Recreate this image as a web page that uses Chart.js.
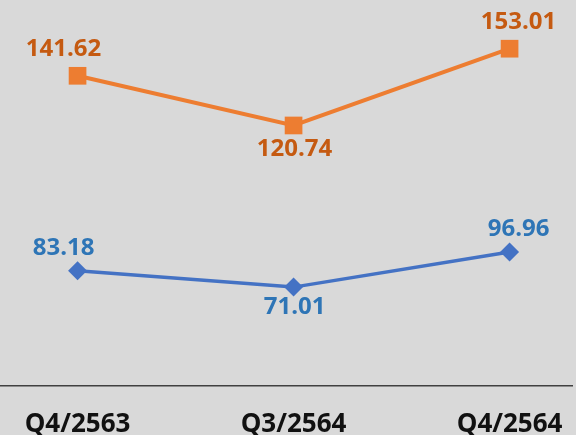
<!DOCTYPE html>
<html>
<head>
<meta charset="utf-8">
<script src="https://cdn.jsdelivr.net/npm/chart.js@4/dist/chart.umd.min.js"></script>
<style>
  html, body { margin: 0; padding: 0; background: #d9d9d9; }
  #wrap { width: 576px; height: 435px; }
</style>
</head>
<body>
<div id="wrap"><canvas id="chart"></canvas></div>
<script>
const categories = ['Q4/2563', 'Q3/2564', 'Q4/2564']
const orangeValues = [141.62, 120.74, 153.01]
const blueValues = [83.18, 71.01, 96.96]
const labelPlace = ['above', 'below', 'above']

const FONT = '"Open Sans", Lato, sans-serif'
// small sideways nudge of the value labels, per category
const labelNudge = [-14, 1, 9]

// each value sits on its category index of the x scale
const toPoints = (values) => values.map((y, i) => ({ x: i, y }))

const background = {
    id: 'background',
    beforeDraw(chart) {
        const ctx = chart.ctx
        ctx.save()
        ctx.fillStyle = '#d9d9d9'
        ctx.fillRect(0, 0, chart.width, chart.height)
        ctx.restore()
    }
}

const valueLabels = {
    id: 'valueLabels',
    afterDatasetsDraw(chart) {
        const ctx = chart.ctx
        ctx.save()
        ctx.font = `bold 24px ${FONT}`
        ctx.textAlign = 'center'
        ctx.textBaseline = 'middle'
        chart.data.datasets.forEach((ds, di) => {
            ctx.fillStyle = ds.labelColor
            chart.getDatasetMeta(di).data.forEach((pt, i) => {
                const dy = labelPlace[i] === 'above' ? -ds.gapAbove : ds.gapBelow
                ctx.fillText(ds.data[i].y.toFixed(2), pt.x + labelNudge[i], pt.y + dy)
            })
        })
        ctx.restore()
    }
}

new Chart(document.getElementById('chart'), {
    type: 'line',
    data: {
        datasets: [
            {
                label: 'orange',
                data: toPoints(orangeValues),
                yAxisID: 'y',
                borderColor: '#ED7D31',
                backgroundColor: '#ED7D31',
                borderWidth: 4,
                tension: 0,
                pointStyle: 'rect',
                pointRadius: 12.5,
                pointBorderWidth: 0,
                labelColor: '#C55A11',
                gapAbove: 27,
                gapBelow: 24,
                clip: false,
            },
            {
                label: 'blue',
                data: toPoints(blueValues),
                yAxisID: 'y1',
                borderColor: '#4472C4',
                backgroundColor: '#4472C4',
                borderWidth: 3.5,
                tension: 0,
                pointStyle: 'rectRot',
                pointRadius: 9.5,
                pointBorderWidth: 0,
                labelColor: '#2E75B6',
                gapAbove: 23,
                gapBelow: 20,
                clip: false,
            }
        ]
    },
    options: {
        responsive: true,
        maintainAspectRatio: false,
        animation: false,
        layout: {
            autoPadding: false,
            padding: { left: 0, right: 4, top: 0, bottom: 0 }
        },
        plugins: {
            legend: { display: false },
            tooltip: { enabled: false }
        },
        scales: {
            x: {
                type: 'linear',
                min: -0.359,
                max: 2.289,
                grid: { display: false, drawTicks: false },
                border: { display: true, color: '#404040', width: 1.5 },
                afterBuildTicks: (axis) => {
                    axis.ticks = categories.map((_, i) => ({ value: i }))
                },
                afterFit: (axis) => {
                    // the axis line runs edge to edge, labels sit inside anyway
                    axis.paddingLeft = 0
                    axis.paddingRight = 0
                    axis.height = 49
                },
                ticks: {
                    callback: (value) => categories[value],
                    font: { family: FONT, size: 26, weight: 'bold' },
                    color: '#111',
                    padding: 23,
                    maxRotation: 0,
                    autoSkip: false
                }
            },
            y: { display: false, min: 11.23, max: 173.48 },
            y1: { display: false, min: -2.28, max: 283.8 }
        }
    },
    plugins: [background, valueLabels]
})
</script>
</body>
</html>
